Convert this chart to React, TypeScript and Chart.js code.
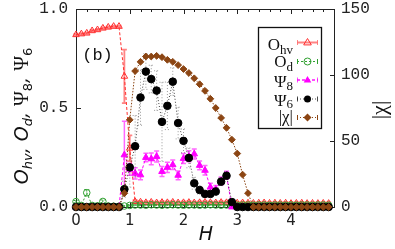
import React, { useEffect, useRef } from "react";
import { Chart, registerables } from "chart.js";
Chart.register(...registerables);

const W = 395;
const HT = 249;

const H = [0, 0.1, 0.2, 0.3, 0.4, 0.5, 0.6, 0.7, 0.8, 0.9, 1.0, 1.1, 1.2, 1.3, 1.4, 1.5, 1.6, 1.7, 1.8, 1.9, 2.0, 2.1, 2.2, 2.3, 2.4, 2.5, 2.6, 2.7, 2.8, 2.9, 3.0, 3.1, 3.2, 3.3, 3.4, 3.5, 3.6, 3.7, 3.8, 3.9, 4.0, 4.1, 4.2, 4.3, 4.4, 4.5, 4.6, 4.7];

const Ohv = [0.870, 0.874, 0.878, 0.890, 0.895, 0.903, 0.908, 0.912, 0.912,
  0.660, 0.297, 0.027,
  0.025, 0.022, 0.024, 0.021, 0.023, 0.022, 0.024, 0.021, 0.022, 0.023,
  0.021, 0.022, 0.024, 0.022, 0.021, 0.023, 0.022, 0.021, 0.020, 0.021,
  0.020, 0.019, 0.020, 0.021, 0.019, 0.020, 0.019, 0.020, 0.018, 0.019,
  0.020, 0.018, 0.019, 0.018, 0.019, 0.018];
const OhvErr = [0.004, 0.004, 0.004, 0.004, 0.004, 0.004, 0.004, 0.004, 0.004,
  0.135, 0.065, 0.008,
  0.006, 0.006, 0.006, 0.006, 0.006, 0.006, 0.006, 0.006, 0.006, 0.006,
  0.006, 0.006, 0.006, 0.006, 0.006, 0.006, 0.006, 0.006, 0.006, 0.006,
  0.006, 0.006, 0.006, 0.006, 0.006, 0.006, 0.006, 0.006, 0.006, 0.006,
  0.006, 0.006, 0.006, 0.006, 0.006, 0.006];

const Od = [0.027, 0.008, 0.072, 0.008, 0.006, 0.028, 0.005, 0.004, 0.004,
  0.005, 0.008, 0.010,
  0.010, 0.009, 0.011, 0.010, 0.009, 0.010, 0.011, 0.010, 0.009, 0.010,
  0.010, 0.009, 0.010, 0.011, 0.010, 0.009, 0.010, 0.010, 0.009, 0.010,
  0.010, 0.009, 0.010, 0.010, 0.009, 0.010, 0.010, 0.009, 0.010, 0.009,
  0.010, 0.010, 0.009, 0.010, 0.010, 0.009];
const OdErr = [0.006, 0.004, 0.016, 0.004, 0.004, 0.008, 0.003, 0.003, 0.003,
  0.004, 0.004, 0.004,
  0.004, 0.004, 0.004, 0.004, 0.004, 0.004, 0.004, 0.004, 0.004, 0.004,
  0.004, 0.004, 0.004, 0.004, 0.004, 0.004, 0.004, 0.004, 0.004, 0.004,
  0.004, 0.004, 0.004, 0.004, 0.004, 0.004, 0.004, 0.004, 0.004, 0.004,
  0.004, 0.004, 0.004, 0.004, 0.004, 0.004];

const Psi8 = [0, 0, 0, 0, 0, 0, 0, 0, 0,
  0.263, 0.19, 0.17, 0.162, 0.25, 0.243, 0.255, 0.179, 0.2, 0.213, 0.16,
  0.245, 0.256, 0.268, 0.21, 0.185, 0.1, 0.09, 0.132, 0.16,
  0, 0, 0, 0, 0, 0, 0, 0, 0, 0, 0, 0, 0, 0, 0, 0, 0, 0, 0];
const Psi8Err = [0, 0, 0, 0, 0, 0, 0, 0, 0,
  0.17, 0.03, 0.028, 0.025, 0.022, 0.03, 0.028, 0.025, 0.026, 0.024, 0.022,
  0.025, 0.028, 0.025, 0.022, 0.024, 0.02, 0.018, 0.02, 0.02,
  0, 0, 0, 0, 0, 0, 0, 0, 0, 0, 0, 0, 0, 0, 0, 0, 0, 0, 0];

const Psi6 = [0, 0, 0, 0, 0, 0, 0, 0, 0,
  0.09, 0.2, 0.307, 0.553, 0.684, 0.646, 0.588, 0.43, 0.511, 0.633, 0.424,
  0.334, 0.248, 0.12, 0.086, 0.066, 0.066, 0.078, 0.128, 0.158, 0.025,
  0, 0, 0, 0, 0, 0, 0, 0, 0, 0, 0, 0, 0, 0, 0, 0, 0, 0];
const Psi6Err = [0, 0, 0, 0, 0, 0, 0, 0, 0,
  0.04, 0.1, 0.155, 0.14, 0.09, 0.07, 0.1, 0.2, 0.12, 0.07, 0.08,
  0.06, 0.05, 0.03, 0.02, 0.015, 0.015, 0.02, 0.02, 0.02, 0.01,
  0, 0, 0, 0, 0, 0, 0, 0, 0, 0, 0, 0, 0, 0, 0, 0, 0, 0];

const Chi = [0, 0, 0, 0, 0, 0, 0, 0, 0,
  10.4, 66, 103, 110, 114, 114, 114.5, 113.5, 111.5, 110, 107.5,
  104.5, 101.5, 97.5, 93, 88, 82, 75, 67.5, 60, 51,
  40.5, 24.5, 10.5,
  0, 0, 0, 0, 0, 0, 0, 0, 0, 0, 0, 0, 0, 0, 0];

const xTicks = [0, 1, 2, 3, 4];
const yTicks = [0, 0.5, 1.0];
const y2Ticks = [0, 50, 100, 150];

const RED = "#ff3030";
const GREEN = "#30a030";
const MAG = "#ff00ff";
const BLACK = "#000000";
const BROWN = "#8b4513";

const MONO = "'Liberation Mono', monospace";
const SANS = "'DejaVu Sans', sans-serif";
const SERIF = "'Liberation Serif', serif";

type Seg = { t: string; font: string; dy?: number };

function segWidth(ctx: CanvasRenderingContext2D, segs: Seg[]) {
  let w = 0;
  for (const s of segs) {
    ctx.font = s.font;
    w += ctx.measureText(s.t).width;
  }
  return w;
}

function drawSegs(ctx: CanvasRenderingContext2D, segs: Seg[], x: number, y: number, align: "left" | "right" | "center") {
  const w = segWidth(ctx, segs);
  let cx = align === "left" ? x : align === "right" ? x - w : x - w / 2;
  ctx.textAlign = "left";
  ctx.textBaseline = "alphabetic";
  for (const s of segs) {
    ctx.font = s.font;
    ctx.fillText(s.t, cx, y + (s.dy || 0));
    cx += ctx.measureText(s.t).width;
  }
}

function marker(ctx: CanvasRenderingContext2D, kind: string, x: number, y: number, r: number, color: string, fill: boolean) {
  ctx.beginPath();
  if (kind === "triangle") {
    ctx.moveTo(x, y - r);
    ctx.lineTo(x + r * 0.95, y + r * 0.6);
    ctx.lineTo(x - r * 0.95, y + r * 0.6);
    ctx.closePath();
  } else if (kind === "circle") {
    ctx.arc(x, y, r, 0, Math.PI * 2);
  } else {
    ctx.moveTo(x, y - r);
    ctx.lineTo(x + r, y);
    ctx.lineTo(x, y + r);
    ctx.lineTo(x - r, y);
    ctx.closePath();
  }
  ctx.setLineDash([]);
  if (fill) {
    ctx.fillStyle = color;
    ctx.fill();
  } else {
    ctx.strokeStyle = color;
    ctx.lineWidth = 1;
    ctx.stroke();
  }
}

export default function App() {
  const ref = useRef<HTMLCanvasElement>(null);

  useEffect(() => {
    document.body.style.margin = "0";
    const canvas = ref.current!;
    const mk = (arr: number[]) => H.map((h, i) => ({ x: h, y: arr[i] }));

    const errInfo: any[] = [
      { err: OhvErr, data: Ohv, color: "rgba(255,110,110,0.85)", width: 1.8, dash: [] },
      { err: OdErr, data: Od, color: GREEN, width: 1, dash: [2, 2] },
      { err: Psi8Err, data: Psi8, color: "rgba(255,0,255,0.6)", width: 1.5, dash: [] },
      { err: Psi6Err, data: Psi6, color: "rgba(0,0,0,0.4)", width: 1, dash: [1, 2] },
      null,
    ];

    const plugin = {
      id: "decor",
      beforeDatasetsDraw(chart: any) {
        const { ctx, chartArea: a, scales } = chart;
        const xs = scales.x, ys = scales.y, y2 = scales.y2;
        ctx.save();
        ctx.strokeStyle = "#222";
        ctx.lineWidth = 1;
        ctx.setLineDash([]);
        ctx.strokeRect(Math.round(a.left) + 0.5, Math.round(a.top) + 0.5, Math.round(a.right - a.left), Math.round(a.bottom - a.top));
        ctx.beginPath();
        for (let k = 1; k < 24; k++) {
          const v = k * 0.2;
          const px = Math.round(xs.getPixelForValue(v)) + 0.5;
          const major = Math.abs(v - Math.round(v)) < 1e-6;
          const len = major ? 5 : 3;
          ctx.moveTo(px, a.top);
          ctx.lineTo(px, a.top + len);
          ctx.moveTo(px, a.bottom);
          ctx.lineTo(px, a.bottom - len);
        }
        for (const v of yTicks) {
          const py = Math.round(ys.getPixelForValue(v)) + 0.5;
          ctx.moveTo(a.left, py);
          ctx.lineTo(a.left + 5, py);
        }
        for (const v of y2Ticks) {
          const py = Math.round(y2.getPixelForValue(v)) + 0.5;
          ctx.moveTo(a.right, py);
          ctx.lineTo(a.right - 4, py);
        }
        ctx.stroke();
        ctx.restore();
      },
      beforeDatasetDraw(chart: any, args: any) {
        const info = errInfo[args.index];
        if (!info) return;
        const { ctx, scales } = chart;
        const xs = scales.x, ys = scales.y;
        ctx.save();
        ctx.strokeStyle = info.color;
        ctx.lineWidth = info.width;
        ctx.setLineDash(info.dash);
        ctx.beginPath();
        H.forEach((h, i) => {
          const e = info.err[i];
          if (!e) return;
          const px = xs.getPixelForValue(h);
          const p1 = ys.getPixelForValue(info.data[i] + e);
          const p2 = ys.getPixelForValue(info.data[i] - e);
          ctx.moveTo(px, p1);
          ctx.lineTo(px, p2);
          ctx.moveTo(px - 2.5, p1);
          ctx.lineTo(px + 2.5, p1);
          ctx.moveTo(px - 2.5, p2);
          ctx.lineTo(px + 2.5, p2);
        });
        ctx.stroke();
        ctx.restore();
      },
      afterDraw(chart: any) {
        const { ctx, chartArea: a } = chart;
        ctx.save();
        ctx.fillStyle = "#111";

        // left title (rotated)
        ctx.save();
        ctx.translate(28, 116);
        ctx.rotate(-Math.PI / 2);
        const big = `italic 19px ${SANS}`;
        const sub = `italic 13px ${SANS}`;
        const subU = `13px ${SANS}`;
        const psi = `20px ${SERIF}`;
        drawSegs(ctx, [
          { t: "O", font: big },
          { t: "hv", font: sub, dy: 4 },
          { t: ", ", font: big },
          { t: "O", font: big },
          { t: "d", font: sub, dy: 4 },
          { t: ", ", font: big },
          { t: "Ψ", font: psi },
          { t: "8", font: subU, dy: 4 },
          { t: ", ", font: big },
          { t: "Ψ", font: psi },
          { t: "6", font: subU, dy: 4 },
        ], 0, 0, "center");
        ctx.restore();

        // right title
        ctx.save();
        ctx.translate(380, 110);
        ctx.rotate(-Math.PI / 2);
        ctx.font = `22px ${SERIF}`;
        ctx.textAlign = "center";
        ctx.textBaseline = "middle";
        ctx.fillText("|χ|", 0, 0);
        ctx.restore();

        // x title
        ctx.font = `italic 19px ${SANS}`;
        ctx.textAlign = "center";
        ctx.textBaseline = "middle";
        ctx.fillText("H", (a.left + a.right) / 2 + 1, 235);

        // (b)
        ctx.font = `17px ${MONO}`;
        ctx.fillText("(b)", 97.5, 55);

        // legend
        ctx.fillStyle = "#fff";
        ctx.fillRect(258.5, 27.5, 63, 101);
        ctx.strokeStyle = "#111";
        ctx.lineWidth = 1.3;
        ctx.setLineDash([]);
        ctx.strokeRect(258.5, 27.5, 63, 101);
        ctx.fillStyle = "#111";
        const lf = `17px ${SERIF}`;
        const ls = `13px ${SERIF}`;
        const rows: any[] = [
          { segs: [{ t: "O", font: lf }, { t: "hv", font: ls, dy: 3.5 }], base: 50, ly: 42.5, color: RED, kind: "triangle", fill: false, lw: 2, dash: [], lineColor: "rgba(255,110,110,0.85)" },
          { segs: [{ t: "O", font: lf }, { t: "d", font: ls, dy: 4.5 }], base: 66.5, ly: 61.5, color: GREEN, kind: "circle", fill: false, lw: 1, dash: [2, 2], lineColor: GREEN },
          { segs: [{ t: "Ψ", font: lf }, { t: "8", font: ls, dy: 3.5 }], base: 86.5, ly: 80, color: MAG, kind: "triangle", fill: true, lw: 2, dash: [3, 2], lineColor: "rgba(255,0,255,0.7)" },
          { segs: [{ t: "Ψ", font: lf }, { t: "6", font: ls, dy: 2.5 }], base: 105.5, ly: 99, color: BLACK, kind: "circle", fill: true, lw: 1, dash: [1, 2], lineColor: "rgba(0,0,0,0.7)" },
          { segs: [{ t: "|χ|", font: lf }], base: 122, ly: 117.5, color: BROWN, kind: "diamond", fill: true, lw: 1, dash: [1, 2], lineColor: BROWN },
        ];
        for (const r of rows) {
          ctx.fillStyle = "#111";
          drawSegs(ctx, r.segs, 293, r.base, "right");
          ctx.strokeStyle = r.lineColor;
          ctx.lineWidth = r.lw;
          ctx.setLineDash(r.dash);
          ctx.beginPath();
          ctx.moveTo(297, r.ly);
          ctx.lineTo(318, r.ly);
          ctx.stroke();
          ctx.setLineDash([]);
          ctx.lineWidth = 1;
          ctx.beginPath();
          ctx.moveTo(297.5, r.ly - 2.5);
          ctx.lineTo(297.5, r.ly + 2.5);
          ctx.moveTo(317.5, r.ly - 2.5);
          ctx.lineTo(317.5, r.ly + 2.5);
          ctx.stroke();
          marker(ctx, r.kind, 307.5, r.ly, r.kind === "circle" ? 3.5 : 4, r.color, r.fill);
        }
        ctx.restore();
      },
    };

    const common = { showLine: true, borderWidth: 1, clip: false as any, pointBorderWidth: 1 };

    const chart = new Chart(canvas, {
      type: "scatter",
      data: {
        datasets: [
          { ...common, label: "Ohv", data: mk(Ohv), yAxisID: "y", borderColor: RED, borderDash: [3, 2], pointStyle: "triangle", pointRadius: 3.8, pointBackgroundColor: "rgba(0,0,0,0)", pointBorderColor: RED, order: 5 },
          { ...common, label: "Od", data: mk(Od), yAxisID: "y", borderColor: GREEN, borderDash: [2, 2], pointStyle: "circle", pointRadius: 3.3, pointBackgroundColor: "rgba(0,0,0,0)", pointBorderColor: GREEN, order: 4 },
          { ...common, label: "Psi8", data: mk(Psi8), yAxisID: "y", borderColor: MAG, borderDash: [3, 2], pointStyle: "triangle", pointRadius: 3.8, pointBackgroundColor: MAG, pointBorderColor: MAG, order: 3 },
          { ...common, label: "Psi6", data: mk(Psi6), yAxisID: "y", borderColor: "rgba(0,0,0,0.75)", borderDash: [1, 2], pointStyle: "circle", pointRadius: 3.8, pointBackgroundColor: BLACK, pointBorderColor: BLACK, order: 2 },
          { ...common, label: "chi", data: mk(Chi), yAxisID: "y2", borderColor: BROWN, borderDash: [1.5, 1.5], pointStyle: "rectRot", pointRadius: 3.4, pointBackgroundColor: BROWN, pointBorderColor: BROWN, order: 1 },
        ] as any,
      },
      options: {
        responsive: false,
        animation: false,
        devicePixelRatio: 1,
        layout: { padding: { top: 9, left: 0, right: 0, bottom: 0 } },
        plugins: { legend: { display: false }, tooltip: { enabled: false } },
        scales: {
          x: {
            type: "linear",
            min: 0,
            max: 4.8,
            grid: { display: false, drawTicks: false },
            border: { display: false },
            afterBuildTicks: (s: any) => { s.ticks = xTicks.map((v) => ({ value: v })); },
            afterFit: (s: any) => { s.height = HT - 207; s.paddingLeft = 0; s.paddingRight = 0; },
            ticks: { font: { family: SANS, size: 15 }, color: "#222", padding: 5, maxRotation: 0, callback: (v: any) => String(v) },
          },
          y: {
            type: "linear",
            position: "left",
            min: 0,
            max: 1,
            grid: { display: false, drawTicks: false },
            border: { display: false },
            afterBuildTicks: (s: any) => { s.ticks = yTicks.map((v) => ({ value: v })); },
            afterFit: (s: any) => { s.width = 76; s.paddingTop = 0; s.paddingBottom = 0; },
            ticks: { font: { family: MONO, size: 16 }, color: "#222", padding: 8, callback: (v: any) => Number(v).toFixed(1) },
          },
          y2: {
            type: "linear",
            position: "right",
            min: 0,
            max: 150,
            grid: { display: false, drawTicks: false },
            border: { display: false },
            afterBuildTicks: (s: any) => { s.ticks = y2Ticks.map((v) => ({ value: v })); },
            afterFit: (s: any) => { s.width = W - 334; s.paddingTop = 0; s.paddingBottom = 0; },
            ticks: { font: { family: MONO, size: 16 }, color: "#222", padding: 7, callback: (v: any) => String(v) },
          },
        },
      },
      plugins: [plugin],
    });
    return () => chart.destroy();
  }, []);

  return <canvas ref={ref} width={W} height={HT} style={{ display: "block" }} />;
}
